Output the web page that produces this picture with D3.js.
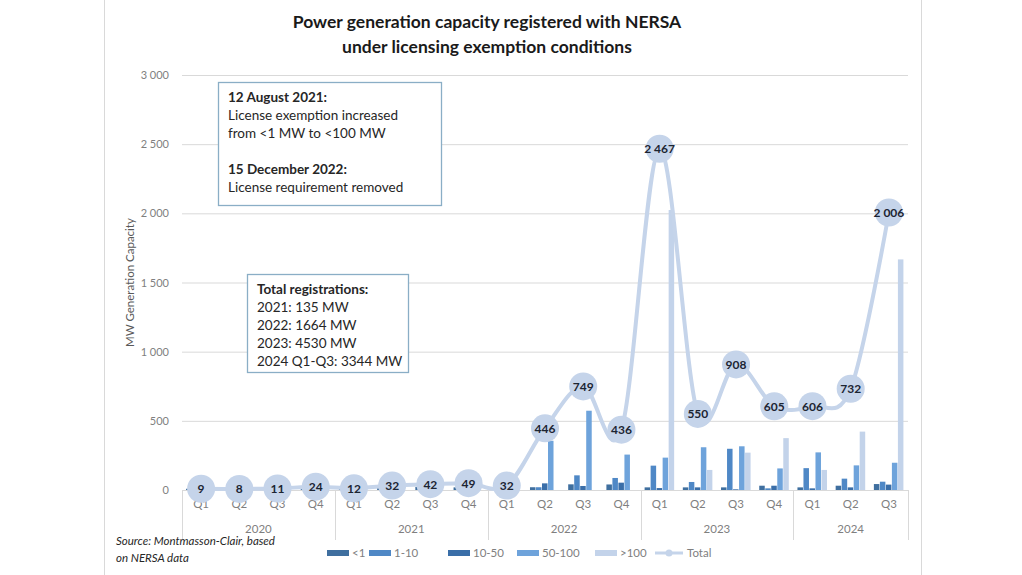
<!DOCTYPE html>
<html><head><meta charset="utf-8">
<script src="https://cdn.jsdelivr.net/npm/d3@7"></script>
<style>
body{margin:0;background:#fff;}
text{font-family:Lato,"Open Sans",sans-serif;}
</style></head>
<body><svg id="c" width="1022" height="575"></svg>
<script>
const quarters = ["Q1","Q2","Q3","Q4","Q1","Q2","Q3","Q4","Q1","Q2","Q3","Q4","Q1","Q2","Q3","Q4","Q1","Q2","Q3"];
const years = ["2020","2021","2022","2023","2024"];
const seriesNames = ["<1","1-10","10-50","50-100",">100"];
const s_lt1   = [9,8,11,14,12,20,22,19,20,20,41,40,19,19,19,31,19,31,43];
const s_1_10  = [0,0,0,10,0,12,20,30,12,20,106,87,176,58,298,12,158,82,60];
const s_10_50 = [0,0,0,0,0,0,0,0,0,48,29,53,14,19,5,31,12,19,39];
const s_50_100= [0,0,0,0,0,0,0,0,0,356,573,256,234,309,316,156,272,178,197];
const s_gt100 = [0,0,0,0,0,0,0,0,0,0,0,0,2024,145,270,375,145,422,1667];
const total   = [9,8,11,24,12,32,42,49,32,446,749,436,2467,550,908,605,606,732,2006];
const yTicks  = [0,500,1000,1500,2000,2500,3000];
const colors  = ["#3f6f9f","#4f88c6","#3a6ea8","#6ea3db","#c3d3ea"];
const lineColor = "#c5d4ea";

const svg = d3.select("#c");
const L=182, R=908, T=75, B=490;
const idx = d3.range(quarters.length);
const x = d3.scaleBand().domain(idx).range([L,R]);
const x1 = d3.scaleBand().domain(seriesNames).range([0,x.bandwidth()]).paddingOuter(0.68);
const y = d3.scaleLinear().domain([0,3000]).range([B,T]);
const fmt = v => d3.format(",")(v).replace(/,/g," ");

// frame
svg.append("line").attr("x1",104.5).attr("x2",104.5).attr("y1",0).attr("y2",575).attr("stroke","#d9d9d9");
svg.append("line").attr("x1",921.5).attr("x2",921.5).attr("y1",0).attr("y2",575).attr("stroke","#d9d9d9");

// title
svg.append("text").attr("x",487).attr("y",28).attr("text-anchor","middle").attr("font-size",17.5).attr("font-weight","bold").attr("fill","#1a1a1a").text("Power generation capacity registered with NERSA");
svg.append("text").attr("x",487).attr("y",53).attr("text-anchor","middle").attr("font-size",17.5).attr("font-weight","bold").attr("fill","#1a1a1a").text("under licensing exemption conditions");

// gridlines + y labels
const yAxis = d3.axisLeft(y).tickValues(yTicks).tickSize(-(R-L)).tickFormat(fmt).tickPadding(13);
const gy = svg.append("g").attr("transform",`translate(${L},0)`).call(yAxis);
gy.select(".domain").remove();
gy.selectAll(".tick line").attr("stroke","#d9d9d9");
gy.selectAll(".tick text").attr("fill","#7f7f7f").attr("font-size",11).attr("font-family","Lato,sans-serif");

svg.append("text").attr("transform",`translate(134,${(T+B)/2}) rotate(-90)`).attr("text-anchor","middle").attr("font-size",11.5).attr("fill","#595959").text("MW Generation Capacity");

// x axis
const xAxis = d3.axisBottom(x).tickFormat(i=>quarters[i]).tickSize(0).tickPadding(10);
const gx = svg.append("g").attr("transform",`translate(0,${B})`).call(xAxis);
gx.select(".domain").attr("stroke","#d9d9d9");
gx.selectAll(".tick text").attr("fill","#7f7f7f").attr("font-size",11.5).attr("font-family","Lato,sans-serif");
// year separators
const yearScale = d3.scaleBand().domain(years).range([L, L + x.step()*20]);
const seps = years.map((yr,i)=>yearScale(yr)).concat([R]);
svg.append("g").selectAll("line").data(seps).join("line")
  .attr("x1",d=>Math.round(d)+0.5).attr("x2",d=>Math.round(d)+0.5).attr("y1",B).attr("y2",540).attr("stroke","#d9d9d9");
svg.append("g").selectAll("text").data(years).join("text")
  .attr("x",(d,i)=> i===4 ? (yearScale(d)+R)/2 : yearScale(d)+yearScale.bandwidth()/2)
  .attr("y",533).attr("text-anchor","middle").attr("font-size",11.5).attr("fill","#7f7f7f").text(d=>d);

// bars
const seriesData = [s_lt1,s_1_10,s_10_50,s_50_100,s_gt100];
const gb = svg.append("g");
seriesData.forEach((arr,si)=>{
  gb.append("g").selectAll("rect").data(arr).join("rect")
    .attr("x",(d,i)=>x(i)+x1(seriesNames[si]))
    .attr("width",x1.bandwidth()-0.5)
    .attr("y",d=>y(d)).attr("height",d=>B-y(d))
    .attr("fill",colors[si]);
});

// total line
const line = d3.line().x((d,i)=>x(i)+x.bandwidth()/2).y(d=>y(d)).curve(d3.curveCatmullRom.alpha(0));
svg.append("path").datum(total).attr("d",line).attr("fill","none").attr("stroke",lineColor).attr("stroke-width",4);
const gp = svg.append("g");
gp.selectAll("circle").data(total).join("circle")
  .attr("cx",(d,i)=>x(i)+x.bandwidth()/2).attr("cy",d=>y(d)).attr("r",14).attr("fill",lineColor);
gp.selectAll("text").data(total).join("text")
  .attr("x",(d,i)=>x(i)+x.bandwidth()/2).attr("y",d=>y(d)+4.5).attr("text-anchor","middle")
  .attr("font-size",12).attr("font-weight","bold").attr("fill","#1c2533").text(fmt);

// annotation boxes
function box(x0,y0,w,h,lines){
  svg.append("rect").attr("x",x0+0.5).attr("y",y0+0.5).attr("width",w).attr("height",h).attr("fill","#fff").attr("stroke","#8aaec6").attr("stroke-width",1.3);
  lines.forEach(l=>{
    svg.append("text").attr("x",x0+10).attr("y",l.y).attr("font-size",13.5).attr("font-weight",l.b?"bold":"normal").attr("fill","#262626").text(l.t);
  });
}
box(218,82,223,123,[
  {t:"12 August 2021:",b:true,y:102},
  {t:"License exemption increased",y:120},
  {t:"from <1 MW to <100 MW",y:138},
  {t:"15 December 2022:",b:true,y:174},
  {t:"License requirement removed",y:192}
]);
box(247,274,161,98,[
  {t:"Total registrations:",b:true,y:294},
  {t:"2021: 135 MW",y:312},
  {t:"2022: 1664 MW",y:330},
  {t:"2023: 4530 MW",y:348},
  {t:"2024 Q1-Q3: 3344 MW",y:366}
]);

// source
svg.append("text").attr("x",116).attr("y",545).attr("font-size",11.5).attr("font-style","italic").attr("fill","#262626").text("Source: Montmasson-Clair, based");
svg.append("text").attr("x",116).attr("y",562).attr("font-size",11.5).attr("font-style","italic").attr("fill","#262626").text("on NERSA data");

// legend
const lg = svg.append("g");
const legX = [327,369,448,517,595];
seriesNames.forEach((n,i)=>{
  lg.append("rect").attr("x",legX[i]).attr("y",550).attr("width",22).attr("height",6).attr("fill",colors[i]);
  lg.append("text").attr("x",legX[i]+25).attr("y",557).attr("font-size",11.5).attr("fill","#7f7f7f").text(n);
});
lg.append("line").attr("x1",655).attr("x2",683).attr("y1",553).attr("y2",553).attr("stroke",lineColor).attr("stroke-width",3);
lg.append("circle").attr("cx",669).attr("cy",553).attr("r",3.5).attr("fill",lineColor);
lg.append("text").attr("x",687).attr("y",557).attr("font-size",11.5).attr("fill","#7f7f7f").text("Total");
</script></body></html>
